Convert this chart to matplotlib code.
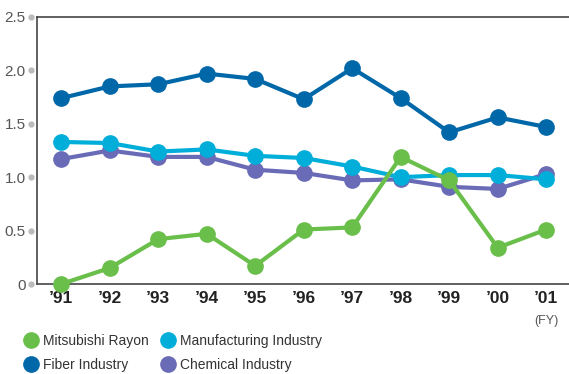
import matplotlib
matplotlib.use("Agg")
import matplotlib.pyplot as plt
import matplotlib.transforms as mtransforms
from matplotlib.lines import Line2D

plt.rcParams['font.family'] = ['Liberation Sans Narrow', 'Liberation Sans', 'DejaVu Sans']

years = ["\u201991", "\u201992", "\u201993", "\u201994", "\u201995", "\u201996",
         "\u201997", "\u201998", "\u201999", "\u201900", "\u201901"]
fiber = [1.74, 1.85, 1.87, 1.97, 1.92, 1.73, 2.02, 1.74, 1.42, 1.56, 1.47]
manufacturing = [1.33, 1.32, 1.24, 1.26, 1.20, 1.18, 1.10, 1.00, 1.02, 1.02, 0.98]
chemical = [1.17, 1.25, 1.19, 1.19, 1.07, 1.04, 0.97, 0.98, 0.91, 0.89, 1.03]
mitsubishi = [0.0, 0.15, 0.42, 0.47, 0.17, 0.51, 0.53, 1.19, 0.97, 0.34, 0.51]
yticks = [0, 0.5, 1.0, 1.5, 2.0, 2.5]
ytick_labels = ["0", "0.5", "1.0", "1.5", "2.0", "2.5"]

c_green = "#6abf4b"
c_cyan = "#00aed9"
c_blue = "#0068a8"
c_purple = "#6a6bb6"

fig = plt.figure(figsize=(5.69, 3.74), dpi=100)
ax = fig.add_axes([0.065, 0.2406, 0.935, 0.714])

x = list(range(len(years)))
kw = dict(lw=3, marker="o", ms=11, clip_on=False)
ax.plot(x, fiber, color=c_blue, zorder=3, **kw)
ax.plot(x, chemical, color=c_purple, zorder=4, **kw)
ax.plot(x, manufacturing, color=c_cyan, zorder=5, **kw)
ax.plot(x, mitsubishi, color=c_green, zorder=6, **kw)

ax.set_xlim(-0.5, 10.47)
ax.set_ylim(0, 2.5)
ax.set_xticks(x)
ax.set_xticklabels(years, fontsize=12.5, fontweight="bold", color="#222222")
ax.set_yticks(yticks)
ax.set_yticklabels(ytick_labels, fontsize=11, color="#555555")
ax.tick_params(axis="x", length=0, pad=5)
ax.tick_params(axis="y", length=0, pad=8)

for s in ["left", "bottom", "top"]:
    ax.spines[s].set_color("#444444")
    ax.spines[s].set_linewidth(1.2)
ax.spines["right"].set_visible(False)

# small grey dots used as y ticks
trans = mtransforms.blended_transform_factory(ax.transAxes, ax.transData)
ax.plot([-0.011] * len(yticks), yticks, "o", ms=3.5, color="#bbbbbb",
        transform=trans, clip_on=False)

fig.text(546 / 569, 1 - 321 / 374, "(FY)", fontsize=9, color="#555555",
         ha="center", va="center")

def dot(c):
    return Line2D([], [], ls="none", marker="o", ms=11, color=c)

leg_kw = dict(loc="upper left", frameon=False, fontsize=10, labelcolor="#333333",
              handlelength=1.0, handletextpad=0.4, labelspacing=0.75, borderaxespad=0)
fig.legend([dot(c_green), dot(c_blue)], ["Mitsubishi Rayon", "Fiber Industry"],
           bbox_to_anchor=(0.032, 0.123), **leg_kw)
fig.legend([dot(c_cyan), dot(c_purple)], ["Manufacturing Industry", "Chemical Industry"],
           bbox_to_anchor=(0.273, 0.123), **leg_kw)

fig.savefig("out.png", dpi=100)
